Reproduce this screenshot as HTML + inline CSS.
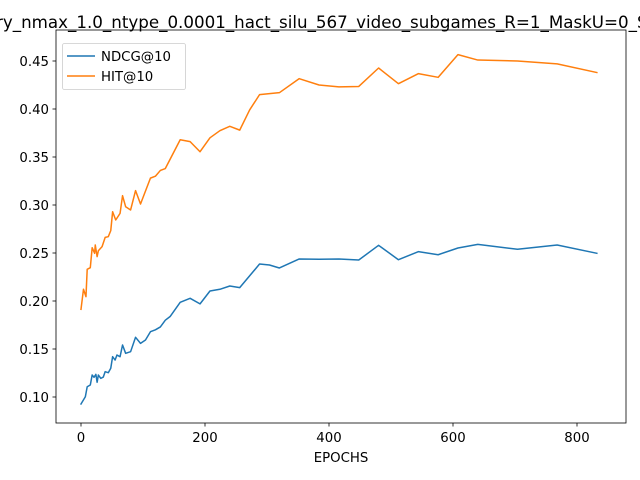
<!DOCTYPE html>
<html><head><meta charset="utf-8"><style>
body{margin:0;background:#fff}
svg{display:block;font-family:"DejaVu Sans","Liberation Sans",sans-serif}
</style></head><body>
<svg id="chart" width="640" height="480" viewBox="0 0 640 480" xmlns="http://www.w3.org/2000/svg">
<rect width="640" height="480" fill="#fff"/>
<text x="-4" y="28" font-size="16.7" fill="#000">ry_nmax_1.0_ntype_0.0001_hact_silu_567_video_subgames_R=1_MaskU=0_S</text>
<g id="plot"></g>
</svg>
<script>
const epochsNdcg=[0,7,10,15,18,21,24,26,28,32,36,39,44,48,51,55,58,63,67,72,80,88,96,104,112,120,128,136,144,160,176,192,208,224,240,256,288,304,320,352,384,416,448,480,512,544,576,608,640,704,768,832];
const ndcg=[0.0927,0.1003,0.1107,0.1125,0.1229,0.1205,0.1236,0.1153,0.1229,0.1194,0.1208,0.1264,0.1253,0.1299,0.142,0.1385,0.1437,0.142,0.1542,0.1455,0.1472,0.1622,0.1559,0.1594,0.168,0.170,0.173,0.180,0.184,0.1986,0.2028,0.197,0.2104,0.2122,0.2156,0.2139,0.2385,0.2375,0.2344,0.2438,0.2435,0.2438,0.2427,0.258,0.243,0.2514,0.2482,0.2552,0.259,0.2539,0.2583,0.2497];
const epochsHit=[0,4,8,10,15,18,22,23,26,28,34,39,44,48,51,56,63,67,72,80,88,96,112,120,128,136,160,176,192,208,224,240,256,272,288,304,320,352,384,416,448,480,512,544,576,608,640,704,768,832];
const hit=[0.1913,0.2122,0.2045,0.233,0.2347,0.2555,0.2497,0.2583,0.2462,0.2524,0.2566,0.2663,0.267,0.2733,0.293,0.2844,0.2913,0.3097,0.2982,0.2948,0.315,0.301,0.328,0.330,0.336,0.338,0.368,0.366,0.3555,0.370,0.3774,0.382,0.378,0.399,0.415,0.416,0.417,0.4316,0.425,0.423,0.4235,0.4427,0.4264,0.4368,0.433,0.4566,0.451,0.450,0.447,0.438];
const xTicks=[0,200,400,600,800];
const yTicks=[0.10,0.15,0.20,0.25,0.30,0.35,0.40,0.45];
const seriesNames=["NDCG@10","HIT@10"];

const NS="http://www.w3.org/2000/svg";
const L=56,R=626,T=30,B=423;
const X=e=>81+e*0.62;
const Y=v=>397-(v-0.10)*960;
const g=document.getElementById('plot');
function el(t,a,p){const e=document.createElementNS(NS,t);for(const k in a)e.setAttribute(k,a[k]);(p||g).appendChild(e);return e;}
function line(xs,vs,color,name){
  const d=xs.map((e,i)=>(i?'L':'M')+X(e).toFixed(2)+','+Y(vs[i]).toFixed(2)).join(' ');
  const p=el('path',{d:d,fill:'none',stroke:color,'stroke-width':1.5,'stroke-linejoin':'round','stroke-linecap':'square'});
  
  
}
line(epochsNdcg,ndcg,'#1f77b4','ndcg-line');
line(epochsHit,hit,'#ff7f0e','hit-line');
const frame=el('rect',{x:L,y:T,width:R-L,height:B-T,fill:'none',stroke:'#000','stroke-width':0.8});


xTicks.forEach(t=>{
  const x=X(t);
  const tk=el('line',{x1:x,x2:x,y1:B,y2:B+3.5,stroke:'#000','stroke-width':0.8});
  
  
  const tx=el('text',{x:x,y:B+19,'font-size':13.3,'text-anchor':'middle'});
  tx.textContent=t;
  
  
});
yTicks.forEach(t=>{
  const y=Y(t);
  const tk=el('line',{x1:L-3.5,x2:L,y1:y,y2:y,stroke:'#000','stroke-width':0.8});
  
  
  const tx=el('text',{x:L-7,y:y+5,'font-size':13.3,'text-anchor':'end'});
  tx.textContent=t.toFixed(2);
  
  
});
const xl=el('text',{x:(L+R)/2,y:462,'font-size':13.3,'text-anchor':'middle'});
xl.textContent='EPOCHS';


const lg=el('g',{});


el('rect',{x:62.5,y:43.5,width:123,height:46,rx:2,fill:'#fff','fill-opacity':0.8,stroke:'#ccc','stroke-width':0.8},lg);
const colors=['#1f77b4','#ff7f0e'];
seriesNames.forEach((n,i)=>{
  const y=56+i*20;
  const ln=el('line',{x1:67,x2:95,y1:y,y2:y,stroke:colors[i],'stroke-width':1.5},lg);
  
  
  const tx=el('text',{x:101,y:y+5,'font-size':13.3},lg);
  tx.textContent=n;
  
  
});
</script>
</body></html>
